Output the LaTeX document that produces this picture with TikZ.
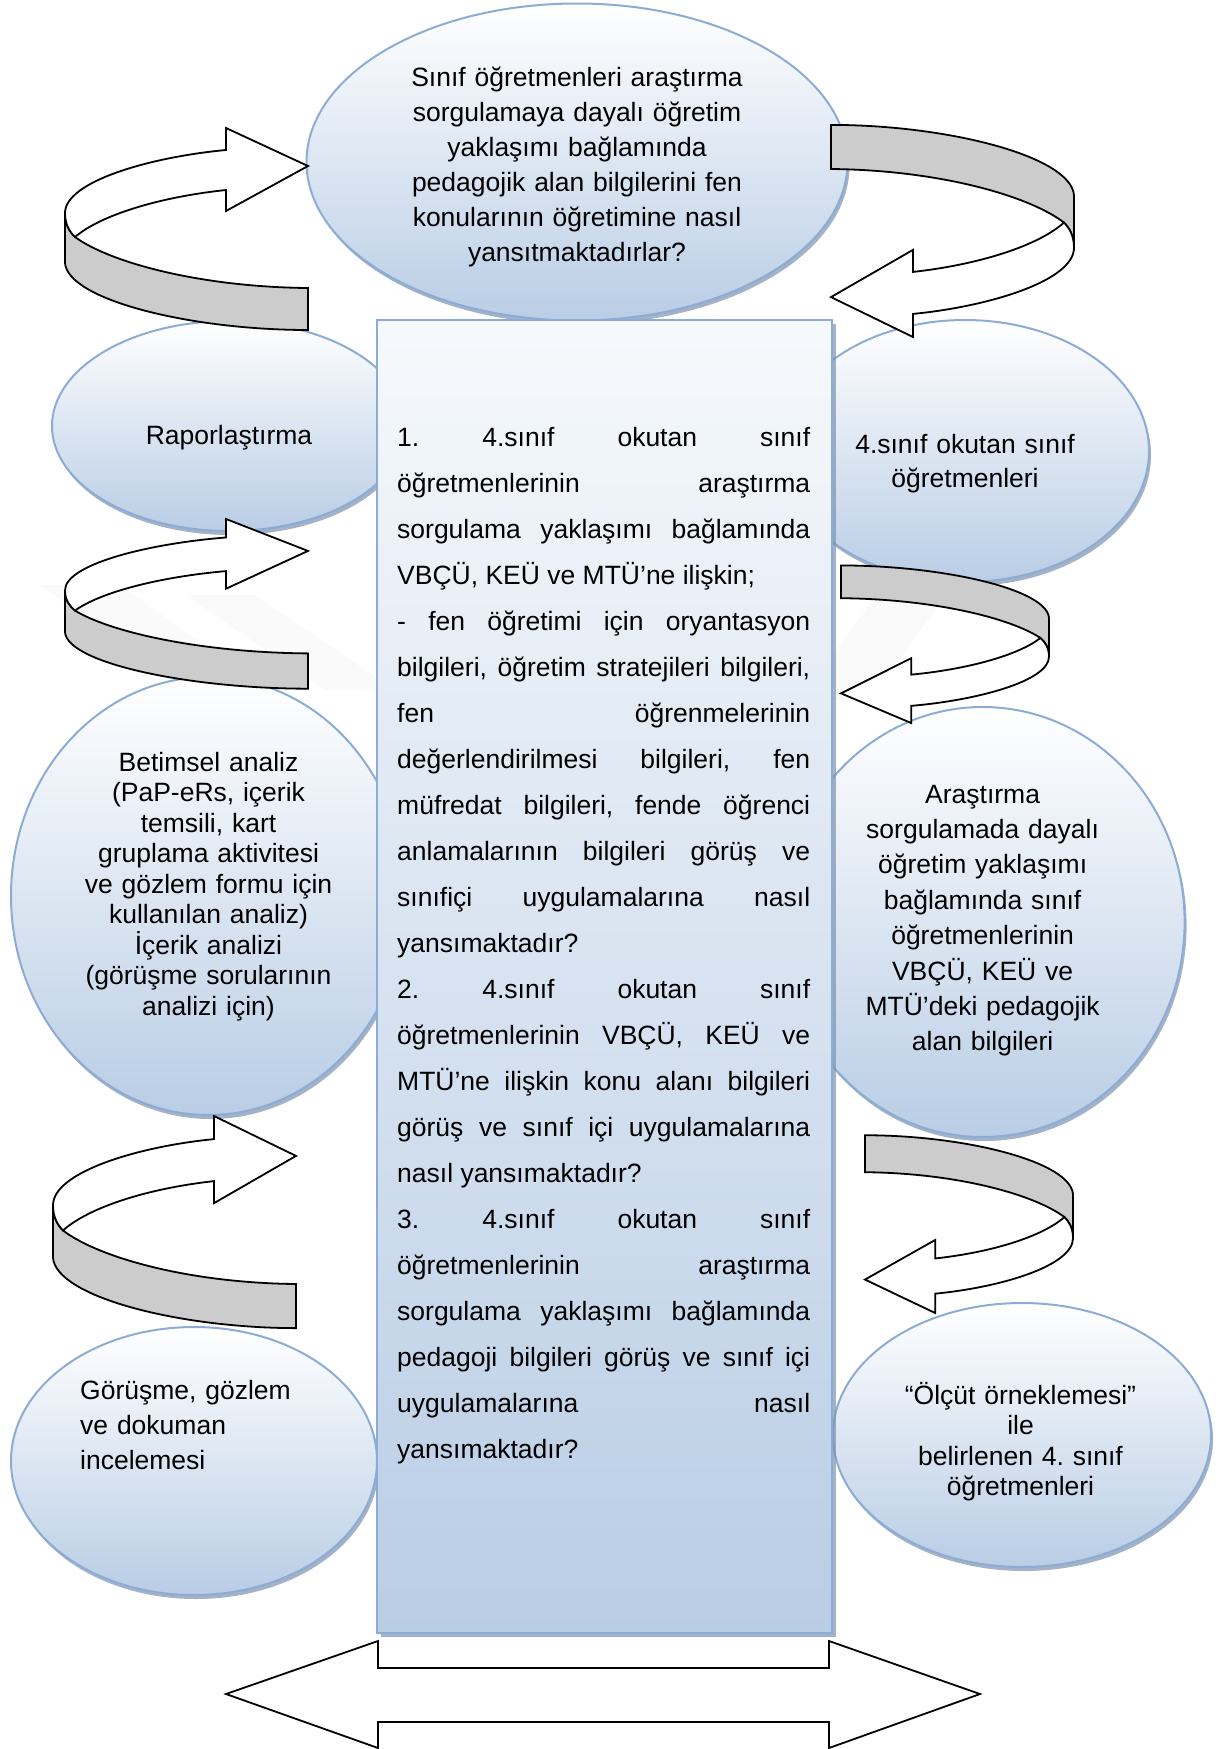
\documentclass[tikz,border=0pt]{standalone}
\usepackage{fontspec}
\setmainfont{Liberation Sans}
\usetikzlibrary{shapes.geometric,shadows}
\definecolor{bubbleedge}{RGB}{141,172,212}
\definecolor{bubblefill}{RGB}{185,205,229}
\definecolor{bubbletop}{RGB}{255,255,255}
\definecolor{boxtop}{RGB}{246,249,252}
\definecolor{shadowblue}{RGB}{125,145,175}
\definecolor{ribbongray}{RGB}{204,204,204}
\frenchspacing

% One curled ribbon arrow (head at top right, tail at bottom right),
% drawn in a local frame 243 x 202; placement comes from the scope options.
\newcommand{\ribbonarrow}[1]{%
  \begin{scope}[#1]
    \filldraw[ribbon, fill=ribbongray]
      (0,85) -- (0,135) .. controls (3,172) and (126,202) .. (243,202)
      -- (243,160) .. controls (135,159) and (45,134.5) .. (10,109)
      .. controls (5,104) and (0,97) .. (0,85) -- cycle;
    \filldraw[ribbon, fill=white]
      (0,85) .. controls (0,97) and (5,104) .. (10,109)
      .. controls (35.7,87) and (94.6,69) .. (161,62)
      -- (161,83) -- (243,38) -- (161,0) -- (161,22)
      .. controls (85.3,29) and (0,53.5) .. (0,85) -- cycle;
  \end{scope}}

\begin{document}
\begin{tikzpicture}[x=1pt,y=-1pt,
  bubble/.style={ellipse, draw=bubbleedge, line width=2pt, inner sep=0pt,
    top color=bubbletop, bottom color=bubblefill,
    drop shadow={shadow xshift=2pt, shadow yshift=-4pt, fill=shadowblue, opacity=0.7}},
  qbox/.style={rectangle, draw=bubbleedge, line width=2pt, inner sep=0pt,
    top color=boxtop, bottom color=bubblefill,
    drop shadow={shadow xshift=4pt, shadow yshift=-4pt, fill=shadowblue, opacity=0.7}},
  bubbletext/.style={inner sep=0pt, text width=420pt, align=center, anchor=base},
  ribbon/.style={draw=black, line width=1.8pt, line join=miter},
]
\useasboundingbox (0,0) rectangle (1219,1749);

% faint background mark
\fill[gray, opacity=0.045] (40,585) -- (120,585) -- (345,745) -- (265,745) -- cycle;
\fill[gray, opacity=0.045] (185,595) -- (255,595) -- (395,690) -- (325,690) -- cycle;
\fill[gray, opacity=0.045] (880,590) -- (950,590) -- (870,700) -- (800,700) -- cycle;

% ellipses
\node[bubble, minimum width=541pt, minimum height=317pt] (question) at (577,162) {};
\node[bubble, minimum width=354pt, minimum height=210pt] (report) at (229,426) {};
\node[bubble, minimum width=368pt, minimum height=262pt] (teachers) at (965,451) {};
\node[bubble, minimum width=395pt, minimum height=438pt] (analysis) at (208.5,896) {};
\node[bubble, minimum width=404pt, minimum height=430pt] (knowledge) at (982.6,922) {};
\node[bubble, minimum width=366pt, minimum height=268pt] (datacoll) at (194,1461) {};
\node[bubble, minimum width=378pt, minimum height=264pt] (sample) at (1022,1435) {};

% central box with the research questions
\node[qbox, minimum width=455pt, minimum height=1313pt] (rqbox) at (604.5,976.5) {};

% texts
\node[bubbletext, font=\fontsize{26.5}{35}\selectfont] (questiontext) at (577,86)
  {Sınıf öğretmenleri araştırma\\sorgulamaya dayalı öğretim\\yaklaşımı bağlamında\\pedagojik alan bilgilerini fen\\konularının öğretimine nasıl\\yansıtmaktadırlar?};
\node[bubbletext, font=\fontsize{26.5}{35}\selectfont] (reporttext) at (229,444) {Raporlaştırma};
\node[bubbletext, font=\fontsize{26.5}{34.5}\selectfont] (teacherstext) at (965,453)
  {4.sınıf okutan sınıf\\öğretmenleri};
\node[bubbletext, font=\fontsize{26.5}{30.5}\selectfont] (analysistext) at (208.5,771)
  {Betimsel analiz\\(PaP-eRs, içerik\\temsili, kart\\gruplama aktivitesi\\ve gözlem formu için\\kullanılan analiz)\\İçerik analizi\\(görüşme sorularının\\analizi için)};
\node[bubbletext, font=\fontsize{26.5}{35.4}\selectfont] (knowledgetext) at (982.6,803)
  {Araştırma\\sorgulamada dayalı\\öğretim yaklaşımı\\bağlamında sınıf\\öğretmenlerinin\\VBÇÜ, KEÜ ve\\MTÜ’deki pedagojik\\alan bilgileri};
\node[bubbletext, anchor=base west, align=left, font=\fontsize{26.5}{35}\selectfont] (datacolltext) at (80,1399)
  {Görüşme, gözlem\\ve dokuman\\incelemesi};
\node[bubbletext, font=\fontsize{26.5}{30.5}\selectfont] (sampletext) at (1020.5,1404)
  {“Ölçüt örneklemesi”\\ile\\belirlenen 4. sınıf\\öğretmenleri};

\node[inner sep=0pt, text width=413pt, align=justify, anchor=base west,
      font=\fontsize{26.5}{46}\selectfont] (rqtext) at (397,446)
  {1. 4.sınıf okutan sınıf\linebreak
   öğretmenlerinin araştırma\linebreak
   sorgulama yaklaşımı bağlamında\linebreak
   VBÇÜ, KEÜ ve MTÜ’ne ilişkin;\par
   - fen öğretimi için oryantasyon\linebreak
   bilgileri, öğretim stratejileri bilgileri,\linebreak
   fen öğrenmelerinin\linebreak
   değerlendirilmesi bilgileri, fen\linebreak
   müfredat bilgileri, fende öğrenci\linebreak
   anlamalarının bilgileri görüş ve\linebreak
   sınıfiçi uygulamalarına nasıl\linebreak
   yansımaktadır?\par
   2. 4.sınıf okutan sınıf\linebreak
   öğretmenlerinin VBÇÜ, KEÜ ve\linebreak
   MTÜ’ne ilişkin konu alanı bilgileri\linebreak
   görüş ve sınıf içi uygulamalarına\linebreak
   nasıl yansımaktadır?\par
   3. 4.sınıf okutan sınıf\linebreak
   öğretmenlerinin araştırma\linebreak
   sorgulama yaklaşımı bağlamında\linebreak
   pedagoji bilgileri görüş ve sınıf içi\linebreak
   uygulamalarına nasıl\linebreak
   yansımaktadır?};

% curled arrows on the left (pointing right)
\ribbonarrow{shift={(65,128)}}
\ribbonarrow{shift={(65,519)}, yscale=0.84}
\ribbonarrow{shift={(53,1116)}, yscale=1.05}
% curled arrows on the right (pointing left)
\ribbonarrow{shift={(1074,337)}, rotate=180, yscale=1.05}
\ribbonarrow{shift={(1049,723)}, rotate=180, xscale=0.856, yscale=0.78}
\ribbonarrow{shift={(1073,1313)}, rotate=180, xscale=0.856, yscale=0.88}

% double arrow at the foot of the box
\filldraw[ribbon, fill=white] (226,1694) -- (378,1641) -- (378,1668) -- (829,1668)
  -- (829,1641) -- (980,1694) -- (829,1748) -- (829,1722) -- (378,1722)
  -- (378,1748) -- cycle;
\end{tikzpicture}
\end{document}
